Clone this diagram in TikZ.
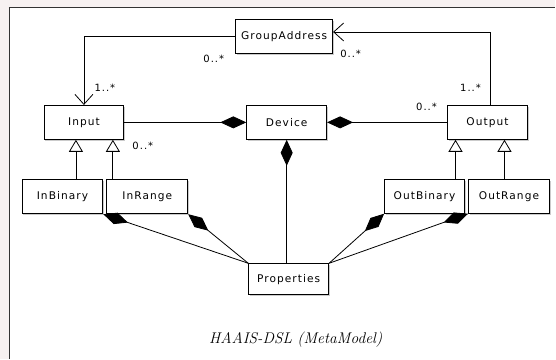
\documentclass[tikz,border=0pt]{standalone}
\usepackage{fontspec}
\newfontfamily\umlfont[LetterSpace=10]{DejaVu Sans}
\usetikzlibrary{arrows.meta,shadows}

\definecolor{framebg}{RGB}{247,241,241}

\begin{document}
\begin{tikzpicture}[
    x=1pt,y=-1pt,
    cls/.style={rectangle,draw,line width=0.9pt,fill=white,inner sep=0pt,
        minimum width=80pt,minimum height=34pt,font=\umlfont\fontsize{10.6}{12}\selectfont,
        drop shadow={shadow xshift=1.5pt,shadow yshift=-1.5pt,fill=black!40}},
    mult/.style={inner sep=0pt,font=\umlfont\fontsize{10}{11}\selectfont},
    comp/.style={line width=0.8pt,-{Diamond[length=26pt,width=12pt]}},
    gen/.style={line width=0.8pt,-{Triangle[open,length=12pt,width=14pt]}},
    nav/.style={line width=0.8pt,-{Straight Barb[length=10pt,width=18pt]}}
    ]

    % frame
    \fill[framebg] (0,0) rectangle (556,359);
    \fill[white] (10,8) rectangle (556,359);
    \draw[line width=1.2pt,black!80] (9.6,7.6) -- (9.6,359);
    \draw[line width=1.2pt,black!80] (9,7.6) -- (556,7.6);
    \useasboundingbox (0,0) rectangle (556,359);

    \node(grp) [cls,minimum width=97pt] at (284.5,36.5) {GroupAddress};

    \node(inp) [cls] at (84,122.5) {Input};
    \node(dev) [cls] at (287,122.5) {Device};
    \node(out) [cls] at (488,122.5) {Output};

    \node(inb) [cls,minimum width=81pt] at (62.5,197) {InBinary};
    \node(inr) [cls,minimum width=81pt] at (147.5,197) {InRange};
    \node(outb) [cls] at (425,196.5) {OutBinary};
    \node(outr) [cls,minimum width=81pt] at (509.5,196.5) {OutRange};

    \node(prop) [cls,minimum height=31pt] at (289,279.5) {Properties};

    % associations to GroupAddress
    \draw[nav] (grp.west) -| (inp.north);
    \draw[nav] ([xshift=3pt]out.north) |- ([yshift=4.5pt]grp.east);

    % compositions
    \draw[comp] (inp.east) -- (dev.west);
    \draw[comp] (out.west) -- (dev.east);
    \draw[comp] (prop.north -| dev.south) -- (dev.south);
    \foreach \c in {inb,inr}
        \draw[comp] (prop.north west) -- (\c.south east);
    \foreach \c in {outb,outr}
        \draw[comp] (prop.north east) -- (\c.south west);

    % generalizations
    \draw[gen] ([xshift=13.5pt]inb.north) -- ([xshift=13.5pt]inb.north |- inp.south);
    \draw[gen] ([xshift=-34.5pt]inr.north) -- ([xshift=-34.5pt]inr.north |- inp.south);
    \draw[gen] ([xshift=31pt]outb.north) -- ([xshift=31pt]outb.north |- out.south);
    \draw[gen] ([xshift=-4.5pt]outr.north) -- ([xshift=-4.5pt]outr.north |- out.south);

    % multiplicities
    \node(m1) [mult] at (214,59) {0..*};
    \node(m2) [mult] at (105,88) {1..*};
    \node(m3) [mult] at (143,146) {0..*};
    \node(m4) [mult] at (351,54) {0..*};
    \node(m5) [mult] at (471,88) {1..*};
    \node(m6) [mult] at (427,107) {0..*};

    \node(cap) at (296,340) {\fontsize{15.5}{18}\selectfont\itshape HAAIS-DSL (MetaModel)};

\end{tikzpicture}
\end{document}
